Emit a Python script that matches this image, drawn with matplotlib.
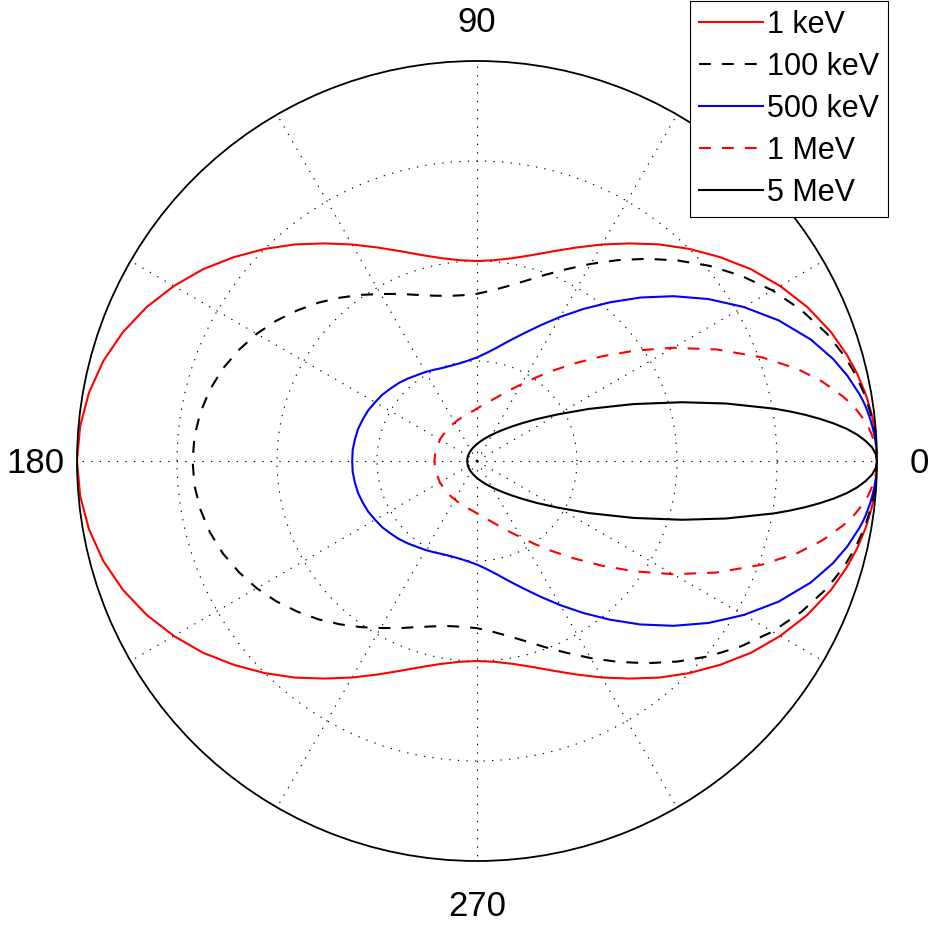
import numpy as np
import matplotlib.pyplot as plt

# scattering angle (deg), one half of the pattern; the other half is its mirror
angle_deg = [0, 1, 2, 3, 4, 5, 6, 7, 8, 9, 10, 13, 16, 20, 25, 30, 35, 40, 45,
             50, 55, 60, 65, 70, 75, 80, 85, 90, 95, 100, 105, 110, 115, 120,
             125, 130, 135, 140, 145, 150, 155, 160, 165, 170, 175, 180]

# normalised differential cross section for each photon energy
r_1kev = [1.000, 1.000, 0.999, 0.999, 0.998, 0.996, 0.995, 0.993, 0.990, 0.988,
          0.985, 0.975, 0.962, 0.942, 0.911, 0.875, 0.836, 0.793, 0.750, 0.707,
          0.664, 0.625, 0.589, 0.558, 0.533, 0.515, 0.504, 0.500, 0.504, 0.515,
          0.533, 0.558, 0.589, 0.625, 0.664, 0.707, 0.750, 0.793, 0.836, 0.875,
          0.911, 0.942, 0.967, 0.985, 0.996, 1.000]
r_100kev = [1.000, 1.000, 0.999, 0.998, 0.997, 0.995, 0.993, 0.991, 0.988, 0.985,
            0.982, 0.970, 0.955, 0.931, 0.894, 0.853, 0.807, 0.759, 0.709, 0.660,
            0.613, 0.569, 0.529, 0.495, 0.466, 0.444, 0.428, 0.418, 0.416, 0.419,
            0.428, 0.442, 0.461, 0.482, 0.507, 0.533, 0.560, 0.586, 0.612, 0.636,
            0.657, 0.676, 0.691, 0.702, 0.709, 0.711]
r_500kev = [1.000, 1.000, 0.999, 0.997, 0.995, 0.992, 0.989, 0.985, 0.981, 0.976,
            0.970, 0.950, 0.926, 0.888, 0.832, 0.770, 0.706, 0.641, 0.578, 0.518,
            0.464, 0.416, 0.374, 0.339, 0.311, 0.288, 0.271, 0.259, 0.252, 0.248,
            0.247, 0.248, 0.252, 0.257, 0.262, 0.269, 0.276, 0.282, 0.289, 0.294,
            0.300, 0.304, 0.308, 0.310, 0.312, 0.312]
r_1mev = [1.000, 0.999, 0.997, 0.993, 0.988, 0.982, 0.974, 0.964, 0.954, 0.942,
          0.929, 0.885, 0.834, 0.758, 0.660, 0.566, 0.481, 0.407, 0.345, 0.295,
          0.254, 0.221, 0.196, 0.176, 0.160, 0.148, 0.139, 0.131, 0.125, 0.121,
          0.118, 0.115, 0.113, 0.111, 0.110, 0.109, 0.108, 0.107, 0.107, 0.107,
          0.106, 0.106, 0.106, 0.106, 0.106, 0.106]
r_5mev = [1.000, 0.997, 0.988, 0.972, 0.952, 0.927, 0.897, 0.864, 0.829, 0.792,
          0.754, 0.639, 0.533, 0.416, 0.308, 0.233, 0.183, 0.147, 0.1213, 0.1022,
          0.0877, 0.0765, 0.0676, 0.0605, 0.0546, 0.0498, 0.0458, 0.0425, 0.0396,
          0.0372, 0.0351, 0.0333, 0.0318, 0.0305, 0.0294, 0.0284, 0.0275, 0.0268,
          0.0262, 0.0257, 0.0253, 0.0249, 0.0247, 0.0245, 0.0244, 0.0244]

labels = ['1 keV', '100 keV', '500 keV', '1 MeV', '5 MeV']
tick_angles = [0, 90, 180, 270]
tick_labels = ['0', '90', '180', '270']


def full_circle(vals):
    return list(vals) + list(vals[-2::-1])


theta = np.deg2rad(angle_deg + [360 - a for a in angle_deg[-2::-1]])

plt.rcParams['font.family'] = ['Liberation Sans', 'DejaVu Sans']

fig = plt.figure(figsize=(9.29, 9.27), dpi=100)
ax = fig.add_axes([77 / 929, 66 / 927, 800 / 929, 800 / 927], projection='polar')

dashed = (0, (5.7, 5.3))
styles = [('#ff0000', '-'), ('k', dashed), ('#0000ff', '-'),
          ('#ff0000', dashed), ('k', '-')]
curves = [r_1kev, r_100kev, r_500kev, r_1mev, r_5mev]
for r, lab, (col, ls) in zip(curves, labels, styles):
    ax.plot(theta, full_circle(r), color=col, ls=ls, lw=1.5, label=lab)

ax.set_rticks([0.25, 0.5, 0.75])
ax.set_yticklabels([])
ax.set_rlim(0, 1)
ax.set_thetagrids(range(0, 360, 30), labels=[])
ax.grid(True, color='k', lw=0.8, ls=(0, (1.2, 6.5)))
ax.spines['polar'].set_linewidth(1.3)
ax.tick_params(length=0)

# angle labels just outside the rim, glyphs centred on r = 1.105
for deg, txt in zip(tick_angles, tick_labels):
    ax.annotate(txt, xy=(np.deg2rad(deg), 1.105), xytext=(0, -9),
                textcoords='offset points', ha='center', va='baseline',
                fontsize=25, annotation_clip=False)

leg = ax.legend(loc='upper right', bbox_to_anchor=(888 / 929, 926 / 927),
                bbox_transform=fig.transFigure, fontsize=22, fancybox=False,
                edgecolor='k', framealpha=1, borderaxespad=0, handlelength=2.1,
                handletextpad=0.12, labelspacing=0.39, borderpad=0.3)
leg.get_frame().set_linewidth(0.8)

fig.savefig('out.png', dpi=100)
